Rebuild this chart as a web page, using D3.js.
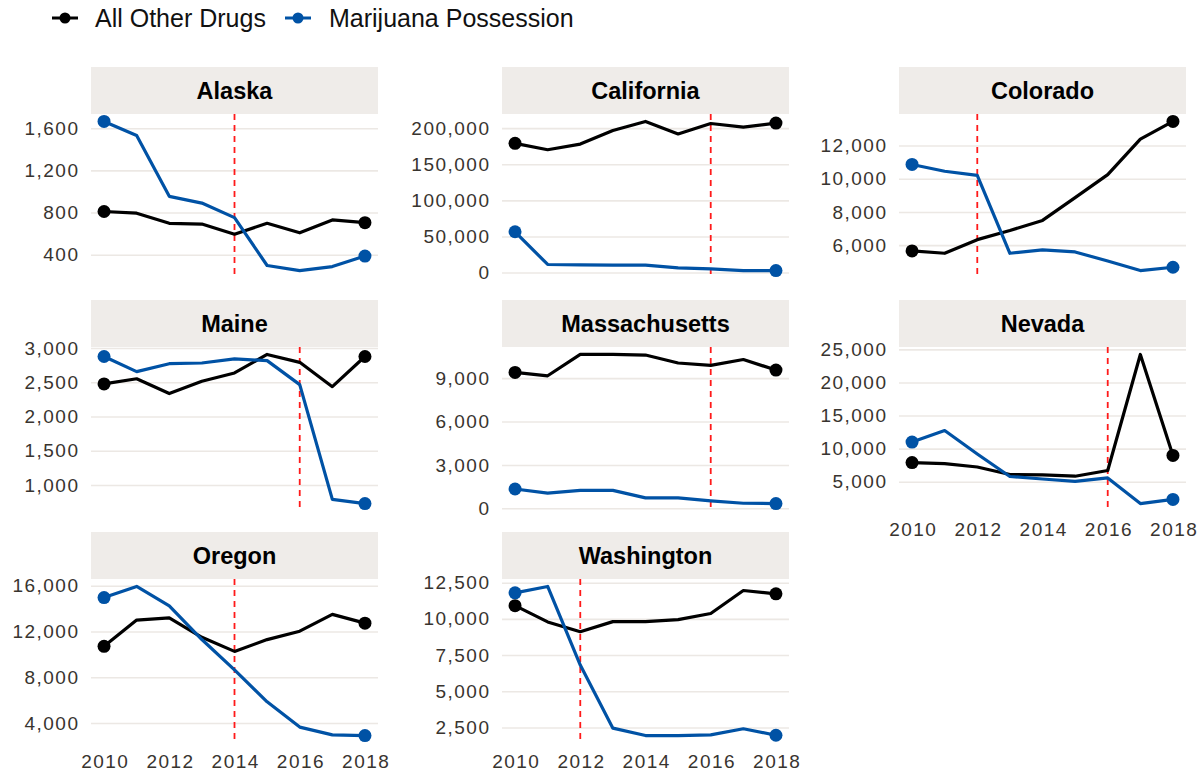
<!DOCTYPE html>
<html>
<head>
<meta charset="utf-8">
<script src="https://cdn.jsdelivr.net/npm/d3@7"></script>
<style>
  html, body { margin: 0; padding: 0; background: #ffffff; }
  svg { display: block; }
</style>
</head>
<body>
<svg id="chart" width="1199" height="774"></svg>
<script>
// ---------------- data ----------------
const years = [2010, 2011, 2012, 2013, 2014, 2015, 2016, 2017, 2018];
const states = ["Alaska", "California", "Colorado", "Maine", "Massachusetts", "Nevada", "Oregon", "Washington"];
const seriesNames = ["All Other Drugs", "Marijuana Possession"];

// arrests, "All Other Drugs", in state order
const otherDrugs = [
  [810, 794, 698, 691, 595, 698, 608, 730, 704],
  [179000, 170100, 178000, 196700, 209300, 192000, 206500, 201400, 207000],
  [5650, 5510, 6330, 6880, 7490, 8860, 10250, 12390, 13450],
  [2475, 2550, 2335, 2515, 2635, 2905, 2790, 2435, 2875],
  [9400, 9165, 10640, 10640, 10600, 10050, 9890, 10290, 9560],
  [7890, 7730, 7220, 6080, 6030, 5830, 6700, 24230, 8970],
  [10706, 13000, 13200, 11500, 10265, 11294, 12030, 13500, 12735],
  [10913, 9790, 9110, 9810, 9810, 9950, 10375, 11960, 11730]
];
// arrests, "Marijuana Possession", in state order
const marijuana = [
  [1664, 1530, 954, 890, 752, 298, 250, 288, 387],
  [56500, 11200, 10700, 10300, 10300, 6500, 5100, 2800, 2800],
  [10860, 10450, 10200, 5510, 5710, 5590, 5040, 4470, 4670],
  [2875, 2655, 2770, 2780, 2840, 2815, 2465, 790, 730],
  [1335, 1055, 1240, 1240, 725, 725, 515, 350, 330],
  [10990, 12740, 9190, 5790, 5410, 5050, 5570, 1700, 2320],
  [14970, 15940, 14240, 11300, 8650, 5860, 3650, 2970, 2910],
  [11800, 12240, 6810, 2450, 1940, 1940, 1990, 2410, 1960]
];
// year of legalization (red dashed line)
const legalYear = [2014, 2016, 2012, 2016, 2016, 2016, 2014, 2012];
// y tick labels per state
const yTicks = [
  [400, 800, 1200, 1600],
  [0, 50000, 100000, 150000, 200000],
  [6000, 8000, 10000, 12000],
  [1000, 1500, 2000, 2500, 3000],
  [0, 3000, 6000, 9000],
  [5000, 10000, 15000, 20000, 25000],
  [4000, 8000, 12000, 16000],
  [2500, 5000, 7500, 10000, 12500]
];
const xTicks = [2010, 2012, 2014, 2016, 2018];

// ---------------- layout ----------------
const colLeft = [91, 502, 899];
const panelW = 287;
const stripTop = [67, 300, 532];
const stripH = 47;
const panelH = 164;
const colors = ["#000000", "#0052A5"];
const tickFont = "'Liberation Sans', Arial, sans-serif";
const tickLS = 1.5;

const svg = d3.select("#chart");
const fmt = d3.format(",");

// legend
const legend = svg.append("g");
const legendKeyX = [52, 285];
const legendTextX = [95, 329];
seriesNames.forEach((name, i) => {
  legend.append("line")
    .attr("x1", legendKeyX[i]).attr("x2", legendKeyX[i] + 26)
    .attr("y1", 18).attr("y2", 18)
    .attr("stroke", colors[i]).attr("stroke-width", 3);
  legend.append("circle")
    .attr("cx", legendKeyX[i] + 13).attr("cy", 18).attr("r", 5.5)
    .attr("fill", colors[i]);
  legend.append("text")
    .attr("x", legendTextX[i]).attr("y", 27)
    .attr("font-family", "'Liberation Sans', Arial, sans-serif")
    .attr("font-size", 25)
    .attr("fill", "#111")
    .text(name);
});

states.forEach((state, si) => {
  const col = si % 3, row = Math.floor(si / 3);
  const x0 = colLeft[col];
  const sTop = stripTop[row];
  const pTop = sTop + stripH;
  const pBot = pTop + panelH;
  const g = svg.append("g");

  const all = otherDrugs[si].concat(marijuana[si]);
  const mn = d3.min(all), mx = d3.max(all);
  const pad = (mx - mn) * 0.05;
  const y = d3.scaleLinear().domain([mn - pad, mx + pad]).range([pBot, pTop]);
  const xpad = (2018 - 2010) * 0.05;
  const x = d3.scaleLinear().domain([2010 - xpad, 2018 + xpad]).range([x0, x0 + panelW]);

  // strip
  g.append("rect")
    .attr("x", x0).attr("y", sTop).attr("width", panelW).attr("height", stripH)
    .attr("fill", "#EFECE9");
  g.append("text")
    .attr("x", x0 + panelW / 2).attr("y", sTop + stripH / 2 + 8.5)
    .attr("text-anchor", "middle")
    .attr("font-family", "'Liberation Sans', Arial, sans-serif")
    .attr("font-weight", "bold")
    .attr("font-size", 23.5)
    .attr("fill", "#000")
    .text(state);

  // y grid + labels via axis
  const yAxis = d3.axisLeft(y).tickValues(yTicks[si]).tickSize(-panelW).tickPadding(13).tickFormat(fmt);
  const ya = g.append("g").attr("transform", `translate(${x0},0)`).call(yAxis);
  ya.select(".domain").remove();
  ya.selectAll(".tick line").attr("stroke", "#ECE8E4").attr("stroke-width", 1.6);
  ya.selectAll(".tick text")
    .attr("font-family", tickFont)
    .attr("font-size", 19)
    .attr("letter-spacing", tickLS + "px")
    .attr("dx", tickLS)
    .attr("fill", "#38342f");

  // x axis labels for bottom panels
  const isBottom = (row === 2) || (si === 5);
  if (isBottom) {
    const xAxis = d3.axisBottom(x).tickValues(xTicks).tickSize(0).tickPadding(12).tickFormat(d3.format("d"));
    const xa = g.append("g").attr("transform", `translate(0,${pBot})`).call(xAxis);
    xa.select(".domain").remove();
    xa.selectAll(".tick text")
      .attr("font-family", tickFont)
      .attr("font-size", 19)
      .attr("letter-spacing", tickLS + "px")
      .attr("dx", tickLS / 2)
      .attr("fill", "#38342f");
  }

  // legalization line
  g.append("line")
    .attr("x1", x(legalYear[si])).attr("x2", x(legalYear[si]))
    .attr("y1", pTop).attr("y2", pBot)
    .attr("stroke", "#FF1A1A").attr("stroke-width", 1.8)
    .attr("stroke-dasharray", "6,5");

  // series
  [otherDrugs[si], marijuana[si]].forEach((vals, k) => {
    const line = d3.line().x((d, i) => x(years[i])).y(d => y(d));
    g.append("path")
      .datum(vals)
      .attr("d", line)
      .attr("fill", "none")
      .attr("stroke", colors[k])
      .attr("stroke-width", 3.2)
      .attr("stroke-linejoin", "round");
    const ends = [0, vals.length - 1];
    g.selectAll(null).data(ends).enter().append("circle")
      .attr("cx", i => x(years[i]))
      .attr("cy", i => y(vals[i]))
      .attr("r", 6.5)
      .attr("fill", colors[k]);
  });
});
</script>
</body>
</html>
